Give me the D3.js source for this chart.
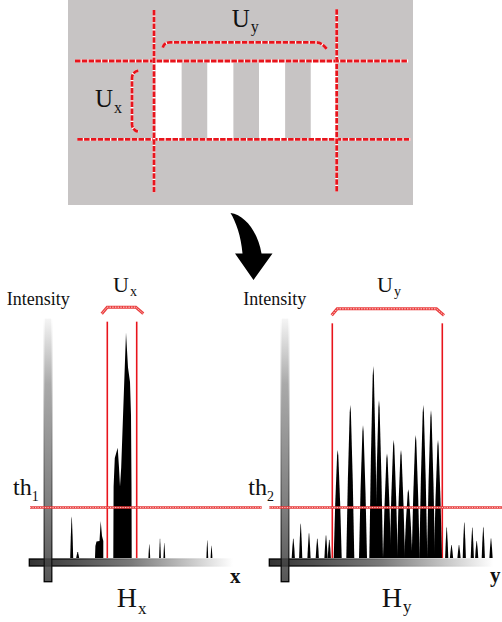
<!DOCTYPE html>
<html><head><meta charset="utf-8">
<script src="https://cdn.jsdelivr.net/npm/d3@7"></script>
<style>body{margin:0;background:#fff}svg{display:block}text{font-family:"Liberation Serif","Times New Roman",serif;fill:#111}</style>
</head><body><div id="c"></div>
<script>
// ---- data ----
// top panel: stripe indices (white bars) in stripe-period units
const stripeIdx = [0, 1, 2, 3];
// Hx histogram (position units along x, intensity 0-100)
const hxSpikePos = [23.7, 29.7, 101.3, 112, 116.3, 159.3, 163.5];
const hxSpikeVal = [17.4, 2.5, 5.9, 8.3, 6.4, 7.6, 5.3];
const hxClusterPos = [47, 47.4, 48.5, 51.5, 52.7, 54, 55.3, 55.3];
const hxClusterVal = [0, 5, 6.9, 7.1, 15.5, 9.2, 7.1, 0];
const hxMainPos = [65.3, 65.6, 66.8, 69.7, 71, 72, 73.2, 78, 80, 82, 83, 83.5, 83.7];
const hxMainVal = [0, 30, 42, 46.3, 38, 30, 38, 94.8, 80, 74, 60, 30, 0];
const hxWindow = [59.3, 88.7];
const th1 = 21.2;
// Hy histogram
const hySpikePos = [8.3, 15.7, 24, 32.3, 41, 44.3,
  52.7, 65.3, 78, 88.3, 94, 102, 108.7, 116, 123.3, 130.7, 138.3, 146, 153,
  161.7, 166.5, 174, 179.3, 187.3, 191.7, 198.3, 206];
const hySpikeVal = [8.3, 14.6, 10.6, 8.3, 9.7, 7.8,
  45.4, 64.3, 55.9, 80.7, 66.4, 44, 49.6, 45.4, 28.9, 51.7, 64.3, 62.2, 49.6,
  13.2, 5.5, 5.5, 15.1, 13, 7.3, 13.2, 8.4];
const hyWindow = [47.3, 157.3];
const th2 = 21.2;

// ---- drawing ----
const W = 502, H = 622, RED = "#e8141c";
const svg = d3.select("#c").append("svg").attr("width", W).attr("height", H);
const defs = svg.append("defs");
function lin(id, x2, y2, stops) {
  const g = defs.append("linearGradient").attr("id", id).attr("x1", 0).attr("y1", 0).attr("x2", x2).attr("y2", y2);
  stops.forEach(s => g.append("stop").attr("offset", s[0]).attr("stop-color", s[1]));
}
lin("vFill", 0, 1, [[0, "#f4f4f4"], [0.25, "#9a9a9a"], [0.7, "#6a6a6a"], [1, "#3a3a3a"]]);
lin("vStroke", 0, 1, [[0, "#fff"], [0.3, "#aaa"], [0.8, "#333"], [1, "#000"]]);
lin("hFill", 1, 0, [[0, "#333"], [0.5, "#7a7a7a"], [1, "#fff"]]);
lin("hStroke", 1, 0, [[0, "#000"], [0.2, "#111"], [0.65, "#999"], [1, "#fff"]]);

// top panel
const tX = d3.scaleLinear().domain([0, 4]).range([155.5, 362.5]);
svg.append("rect").attr("x", 68).attr("y", 0).attr("width", 345).attr("height", 205).attr("fill", "#c7c4c4");
svg.selectAll(".stripe").data(stripeIdx).join("rect").attr("class", "stripe")
  .attr("x", d => tX(d)).attr("y", 61).attr("width", tX(0.505) - tX(0)).attr("height", 78.3).attr("fill", "#fff");
function dashed(g, d) {
  g.append("path").attr("d", d).attr("fill", "none").attr("stroke", "#fff").attr("stroke-width", 2.8);
  g.append("path").attr("d", d).attr("fill", "none").attr("stroke", RED).attr("stroke-width", 2.8).attr("stroke-dasharray", "5.5 1.3");
}
const topG = svg.append("g");
dashed(topG, "M75,61H408.3");
dashed(topG, "M77.3,139.3H410.7");
dashed(topG, "M154,10V192.7");
dashed(topG, "M336.7,9.3V191.7");
dashed(topG, "M162.7,47.7Q164,42.3 170,42.3H316Q322,42.3 326.7,49");
dashed(topG, "M138.3,70.7Q132,72 132,78V124Q132,130 138.3,131.7");
function lab(x, y, main, sub, fs, sfs, dx, dy) {
  const t = svg.append("text").attr("x", x).attr("y", y).attr("font-size", fs);
  t.append("tspan").text(main);
  t.append("tspan").attr("font-size", sfs).attr("dx", dx).attr("dy", dy).text(sub);
}
lab(231.7, 26.7, "U", "y", 25, 16, 1, 5);
lab(95, 106.7, "U", "x", 25, 16, 1, 6);

// arrow
svg.append("path").attr("d", "M230.5,213 C245,215 258,232 261.5,253.5 L272.5,253.5 L253.5,280 L235,253.5 L242.5,253.5 C241,236 236,222 230.5,213 Z").attr("fill", "#000");

// histograms
const yI = d3.scaleLinear().domain([0, 100]).range([558, 320]);
function spikeShape(p, v, hw) {
  return [[p - hw, 0], [p - hw * 0.62, v * 0.5], [p - hw * 0.15, v * 0.95], [p, v], [p + hw * 0.15, v * 0.95], [p + hw * 0.62, v * 0.5], [p + hw, 0]];
}
function panel(opt) {
  const x = d3.scaleLinear().domain([0, opt.len]).range([opt.x0, opt.x0 + opt.len]);
  const g = svg.append("g");
  const area = d3.area().x(d => x(d[0])).y0(yI(0)).y1(d => yI(d[1]));
  // axis bars
  g.append("rect").attr("x", opt.hx0).attr("y", 559).attr("width", opt.hx1 - opt.hx0).attr("height", 7)
    .attr("fill", "url(#hFill)").attr("stroke", "url(#hStroke)").attr("stroke-width", 1.3);
  g.append("rect").attr("x", opt.x0 - 3.8).attr("y", 318).attr("width", 7.6).attr("height", 263.7)
    .attr("fill", "url(#vFill)").attr("fill-opacity", 0.85).attr("stroke", "url(#vStroke)").attr("stroke-width", 1.3);
  // red window lines
  opt.win.forEach(w => g.append("line").attr("x1", x(w)).attr("x2", x(w)).attr("y1", yI(opt.winTop)).attr("y2", yI(0))
    .attr("stroke", RED).attr("stroke-width", 1.6));
  // peaks
  opt.shapes.forEach(s => g.append("path").attr("d", area(s)).attr("fill", "#000"));
  // threshold
  const ty = yI(opt.th);
  const d = `M${opt.thx0},${ty}H${opt.thx1}`;
  g.append("path").attr("d", d).attr("stroke", "#e63a3a").attr("stroke-width", 2.6).attr("fill", "none");
  g.append("path").attr("d", d).attr("stroke", "#ffd0d0").attr("stroke-width", 0.9).attr("stroke-dasharray", "1.2 1.3").attr("fill", "none");
  // brace
  const bx0 = x(opt.win[0]) + opt.bl, bx1 = x(opt.win[1]) + opt.br, by = yI(opt.winTop) - 16;
  const bd = `M${bx0},${by + 8}L${bx0 + 5.5},${by + 1.5}H${bx1 - 7.5}L${bx1},${by + 8}`;
  g.append("path").attr("d", bd).attr("stroke", "#ea3c3c").attr("stroke-width", 3).attr("fill", "none");
  g.append("path").attr("d", bd).attr("stroke", "#ffe0e0").attr("stroke-width", 1).attr("stroke-dasharray", "1.5 1.2").attr("fill", "none");
  return x;
}
const hxShapes = hxSpikePos.map((p, i) => spikeShape(p, hxSpikeVal[i], i < 2 ? 1.5 : 0.9));
hxShapes.push(hxClusterPos.map((p, i) => [p, hxClusterVal[i]]));
hxShapes.push(hxMainPos.map((p, i) => [p, hxMainVal[i]]));
panel({ len: 185, x0: 48, hx0: 29.3, hx1: 233, win: hxWindow, winTop: 99.3, th: th1, thx0: 30, thx1: 261.7, shapes: hxShapes, bl: -5.6, br: 6.6 });

const hyShapes = hySpikePos.map((p, i) => {
  const inside = p > hyWindow[0] && p < hyWindow[1];
  return spikeShape(p, hySpikeVal[i], inside ? 4 : 1.6);
});
panel({ len: 208.3, x0: 285, hx0: 269.3, hx1: 493.3, win: hyWindow, winTop: 98.6, th: th2, thx0: 269.3, thx1: 502, shapes: hyShapes, bl: -0.6, br: 1.7 });

// labels
svg.append("text").attr("x", 6.7).attr("y", 305.2).attr("font-size", 18).text("Intensity");
svg.append("text").attr("x", 243.3).attr("y", 305.2).attr("font-size", 18).text("Intensity");
lab(13, 495, "th", "1", 24, 14, 0, 6);
lab(248.3, 495, "th", "2", 24, 14, 0, 6);
lab(113, 292, "U", "x", 22, 14, 1, 4);
lab(377, 292, "U", "y", 22, 14, 1, 4);
lab(116.7, 606.7, "H", "x", 28, 17, 1, 7);
lab(381.7, 606.7, "H", "y", 28, 17, 1, 5);
svg.append("text").attr("x", 230).attr("y", 583).attr("font-size", 21).attr("font-weight", "bold").text("x");
svg.append("text").attr("x", 490).attr("y", 582).attr("font-size", 21).attr("font-weight", "bold").text("y");
</script></body></html>
